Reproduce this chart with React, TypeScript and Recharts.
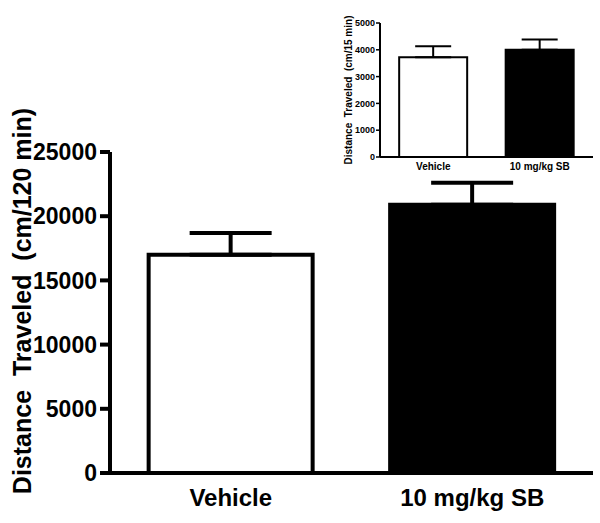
import React from "react";
import { BarChart, Bar, XAxis, YAxis, Cell, ErrorBar, Label } from "recharts";

const categories = ["Vehicle", "10 mg/kg SB"];
const fills = ["#FFFFFF", "#000000"];

// main panel: 120 min totals
const mainMeans = [17000, 20900];
const mainSem = [1700, 1700];
const mainTicks = [0, 5000, 10000, 15000, 20000, 25000];

// inset: first 15 min
const insetMeans = [3720, 4000];
const insetSem = [410, 380];
const insetTicks = [0, 1000, 2000, 3000, 4000, 5000];

const FONT = "'Liberation Sans', Arial, Helvetica, sans-serif";

const mainData = categories.map((name, i) => ({ name, value: mainMeans[i], err: [0, mainSem[i]] }));
const insetData = categories.map((name, i) => ({ name, value: insetMeans[i], err: [0, insetSem[i]] }));

function RotLabel({ x, y, size, text }: { x: number; y: number; size: number; text: string }) {
  return (
    <text
      x={x}
      y={y}
      transform={`rotate(-90 ${x} ${y})`}
      textAnchor="middle"
      dominantBaseline="central"
      style={{ fontFamily: FONT, fontWeight: 700, fontSize: size, fill: "#000", whiteSpace: "pre" }}
    >
      {text}
    </text>
  );
}

export default function App() {
  return (
    <div style={{ position: "fixed", left: 0, top: 0, width: 600, height: 523, background: "#fff" }}>
      <BarChart
        width={600}
        height={523}
        data={mainData}
        margin={{ top: 152, right: 7, bottom: 0, left: 0 }}
        barCategoryGap="16%"
      >
        <XAxis
          dataKey="name"
          height={50}
          stroke="#000"
          strokeWidth={4}
          tickSize={0}
          tickMargin={16}
          tick={{ fill: "#000", fontSize: 24, fontWeight: 700, fontFamily: FONT }}
        />
        <YAxis
          width={110}
          domain={[0, 25000]}
          ticks={mainTicks}
          interval={0}
          stroke="#000"
          strokeWidth={4}
          tickSize={10}
          tickMargin={3}
          tick={{ fill: "#000", fontSize: 23, fontWeight: 700, fontFamily: FONT }}
          tickLine={{ stroke: "#000", strokeWidth: 4 }}
        >
          <Label content={() => <RotLabel x={22} y={301} size={25} text="Distance  Traveled  (cm/120 min)" />} />
        </YAxis>
        <Bar dataKey="value" stroke="#000" strokeWidth={4} isAnimationActive={false}>
          {mainData.map((d, i) => (
            <Cell key={d.name} fill={fills[i]} />
          ))}
          <ErrorBar dataKey="err" width={41} stroke="#000" strokeWidth={4} direction="y" isAnimationActive={false} />
        </Bar>
      </BarChart>

      <div style={{ position: "absolute", left: 330, top: 0 }}>
        <BarChart
          width={270}
          height={190}
          data={insetData}
          margin={{ top: 23, right: 7, bottom: 0, left: 0 }}
          barCategoryGap="18%"
        >
          <XAxis
            dataKey="name"
            height={33}
            stroke="#000"
            strokeWidth={2}
            tickSize={0}
            tickMargin={6}
            tick={{ fill: "#000", fontSize: 10, fontWeight: 700, fontFamily: FONT }}
          />
          <YAxis
            width={50}
            domain={[0, 5000]}
            ticks={insetTicks}
            interval={0}
            stroke="#000"
            strokeWidth={2}
            tickSize={4}
            tickMargin={1}
            tick={{ fill: "#000", fontSize: 9, fontWeight: 700, fontFamily: FONT }}
            tickLine={{ stroke: "#000", strokeWidth: 1.5 }}
          >
            <Label content={() => <RotLabel x={18} y={90} size={10} text="Distance  Traveled  (cm/15 min)" />} />
          </YAxis>
          <Bar dataKey="value" stroke="#000" strokeWidth={2} isAnimationActive={false}>
            {insetData.map((d, i) => (
              <Cell key={d.name} fill={fills[i]} />
            ))}
            <ErrorBar dataKey="err" width={18} stroke="#000" strokeWidth={2} direction="y" isAnimationActive={false} />
          </Bar>
        </BarChart>
      </div>
    </div>
  );
}
